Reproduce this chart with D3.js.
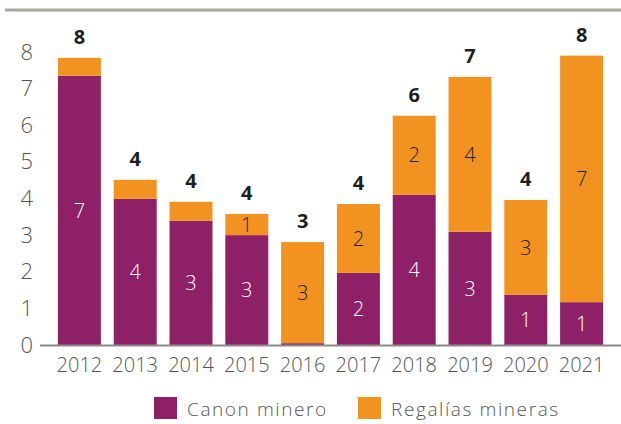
<!DOCTYPE html>
<html>
<head>
<meta charset="utf-8">
<script src="https://cdn.jsdelivr.net/npm/d3@7"></script>
<style>
  body { margin: 0; background: #fff; }
  text { font-family: "Open Sans", "Lato", sans-serif; }
</style>
</head>
<body>
<script>
// data
var years = ["2012", "2013", "2014", "2015", "2016", "2017", "2018", "2019", "2020", "2021"];
var canon = [7.35, 3.99, 3.39, 3.00, 0.05, 1.97, 4.10, 3.09, 1.37, 1.17];
var regalias = [0.49, 0.52, 0.52, 0.58, 2.76, 1.88, 2.16, 4.23, 2.59, 6.73];
var canonLabels = ["7", "4", "3", "3", "", "2", "4", "3", "1", "1"];
var regaliasLabels = ["", "", "", "1", "3", "2", "2", "4", "3", "7"];
var totalLabels = ["8", "4", "4", "4", "3", "4", "6", "7", "4", "8"];
var yTicks = [0, 1, 2, 3, 4, 5, 6, 7, 8];
var seriesNames = ["Canon minero", "Regalías mineras"];
var colors = ["#8e2068", "#f29220"];

var width = 621, height = 424;

var svg = d3.select("body").append("svg")
    .attr("width", width)
    .attr("height", height);

var rows = years.map(function(y, i) {
    return {year: y, canon: canon[i], regalias: regalias[i], i: i};
});

var x = d3.scaleBand().domain(years)
    .range([51.5, 609.5])
    .paddingInner(0.23)
    .paddingOuter(0.115);

var y = d3.scaleLinear().domain([0, 8]).range([345, 52]);

// top rule
svg.append("line")
    .attr("x1", 5).attr("x2", width)
    .attr("y1", 10).attr("y2", 10)
    .style("stroke", "#a4ab98")
    .style("stroke-width", 3);

var stack = d3.stack().keys(["canon", "regalias"]);
var layers = stack(rows);

var layer = svg.append("g").selectAll("g")
    .data(layers)
    .enter().append("g")
    .style("fill", function(d, i) { return colors[i]; });

layer.selectAll("rect")
    .data(function(d) { return d; })
    .enter().append("rect")
    .attr("x", function(d) { return x(d.data.year); })
    .attr("width", x.bandwidth())
    .attr("y", function(d) { return y(d[1]); })
    .attr("height", function(d) { return y(d[0]) - y(d[1]); });

// segment labels
layers.forEach(function(l, k) {
    var labels = k === 0 ? canonLabels : regaliasLabels;
    svg.append("g").selectAll("text")
        .data(l)
        .enter().append("text")
        .attr("x", function(d) { return x(d.data.year) + x.bandwidth() / 2; })
        .attr("y", function(d) { return (y(d[0]) + y(d[1])) / 2; })
        .attr("dy", "0.36em")
        .attr("text-anchor", "middle")
        .style("font-size", "20px")
        .style("font-weight", 300)
        .style("fill", k === 0 ? "#ffffff" : "#222222")
        .text(function(d) { return labels[d.data.i]; });
});

// totals
svg.append("g").selectAll("text")
    .data(rows)
    .enter().append("text")
    .attr("x", function(d) { return x(d.year) + x.bandwidth() / 2; })
    .attr("y", function(d) { return y(d.canon + d.regalias) - 14; })
    .attr("text-anchor", "middle")
    .style("font-size", "20px")
    .style("font-weight", 700)
    .style("fill", "#1e1e1e")
    .text(function(d) { return totalLabels[d.i]; });

// baseline
svg.append("line")
    .attr("x1", 40).attr("x2", width)
    .attr("y1", 345.5).attr("y2", 345.5)
    .style("stroke", "#8a8a8a")
    .style("stroke-width", 2);

// y axis labels
var yAxis = svg.append("g")
    .attr("transform", "translate(33,0)")
    .call(d3.axisLeft(y).tickValues(yTicks).tickSize(0).tickPadding(0).tickFormat(d3.format("d")));
yAxis.select(".domain").remove();
yAxis.selectAll("text")
    .style("font-family", "'Open Sans', sans-serif")
    .style("font-size", "22px")
    .style("font-weight", 300)
    .style("fill", "#555");

// x axis labels
var xAxis = svg.append("g")
    .attr("transform", "translate(0,358)")
    .call(d3.axisBottom(x).tickSize(0).tickPadding(0));
xAxis.select(".domain").remove();
xAxis.selectAll("text")
    .style("font-family", "'Open Sans', sans-serif")
    .style("font-size", "20px")
    .style("font-weight", 300)
    .style("fill", "#555");

// legend
var legend = svg.append("g").selectAll("g")
    .data(seriesNames)
    .enter().append("g")
    .attr("transform", function(d, i) { return "translate(" + (154 + i * 204) + ",397)"; });
legend.append("rect")
    .attr("width", 23).attr("height", 22)
    .style("fill", function(d, i) { return colors[i]; });
legend.append("text")
    .attr("x", 33).attr("y", 12)
    .attr("dy", "0.35em")
    .style("font-size", "19px")
    .style("font-weight", 300)
    .style("letter-spacing", "1.6px")
    .style("fill", "#555")
    .text(function(d) { return d; });
</script>
</body>
</html>
